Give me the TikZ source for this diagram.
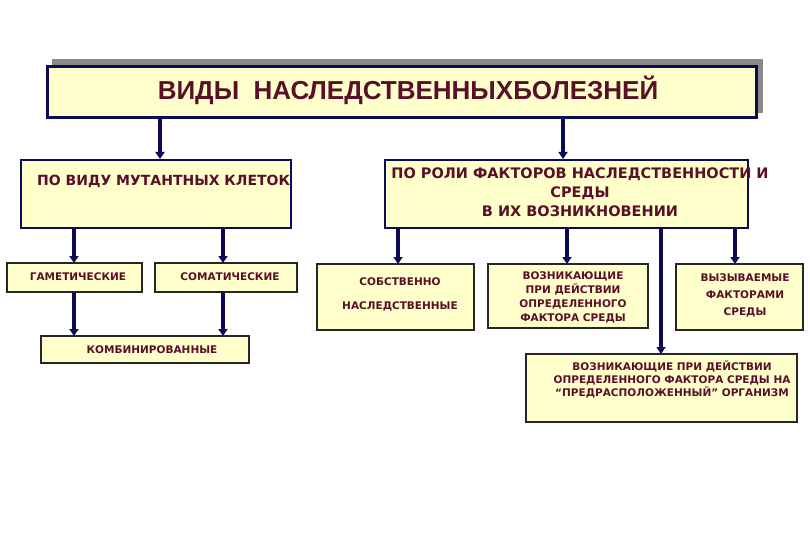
\documentclass[tikz,border=0pt]{standalone}
\usepackage{fontspec}
\setmainfont{DejaVu Sans}
\newfontfamily\titlefont{Liberation Sans}
\usetikzlibrary{arrows.meta}
\definecolor{boxfill}{HTML}{FFFFCC}
\definecolor{navy}{HTML}{0A0A55}
\definecolor{txt}{HTML}{5A0F28}
\definecolor{shadowgray}{HTML}{8A8A8A}
\tikzset{
  bigbox/.style={draw=navy, line width=2.5pt, fill=boxfill, inner sep=0pt},
  smallbox/.style={draw=black!85, line width=1.2pt, fill=boxfill, inner sep=0pt},
  conn/.style={draw=navy, line width=3.6pt, -{Triangle[width=9pt,length=7pt]}},
  lbl/.style={text=txt, font=\bfseries\fontsize{10.5}{13}\selectfont, align=center, inner sep=0pt},
  midlbl/.style={text=txt, font=\bfseries\fontsize{14}{19}\selectfont, align=center, inner sep=0pt},
}
\begin{document}
\begin{tikzpicture}[x=1pt,y=-1pt]
\useasboundingbox (0,0) rectangle (810,540);
\fill[white] (0,0) rectangle (810,540);
% title
\fill[shadowgray] (52,59) rectangle (763,113);
\node[bigbox, line width=3pt, minimum width=709pt, minimum height=51pt] (top) at (402,92) {};
\node[text=txt, font=\titlefont\bfseries\fontsize{26}{30}\selectfont, inner sep=0pt] (title) at (408,90) {ВИДЫ\ \ НАСЛЕДСТВЕННЫХБОЛЕЗНЕЙ};
% level 2
\node[bigbox, minimum width=270pt, minimum height=68pt] (b1) at (156,194) {};
\node[midlbl, anchor=west] (t1) at (37,181) {ПО ВИДУ МУТАНТНЫХ КЛЕТОК};
\node[bigbox, minimum width=363pt, minimum height=68pt] (b2) at (566.5,194) {};
\node[midlbl, font=\bfseries\fontsize{14.5}{19}\selectfont] (t2) at (580,192) {ПО РОЛИ ФАКТОРОВ НАСЛЕДСТВЕННОСТИ И\\СРЕДЫ\\В ИХ ВОЗНИКНОВЕНИИ};
\coordinate (a1s) at (160,119);
\coordinate (a1e) at (160,159);
\coordinate (a2s) at (563,119);
\coordinate (a2e) at (563,159);
\draw[conn] (a1s) -- (a1e);
\draw[conn] (a2s) -- (a2e);
% left branch
\node[smallbox, minimum width=135pt, minimum height=29pt] (gam) at (74.5,277.5) {};
\node[lbl] (tgam) at (78,277) {ГАМЕТИЧЕСКИЕ};
\node[smallbox, minimum width=142pt, minimum height=29pt] (som) at (226,277.5) {};
\node[lbl] (tsom) at (230,277) {СОМАТИЧЕСКИЕ};
\node[smallbox, minimum width=208pt, minimum height=27pt] (komb) at (145,349.5) {};
\node[lbl] (tkomb) at (152,350) {КОМБИНИРОВАННЫЕ};
\coordinate (l1s) at (74,228); \coordinate (l1e) at (74,263);
\coordinate (l2s) at (223,228); \coordinate (l2e) at (223,263);
\coordinate (l3s) at (74,292); \coordinate (l3e) at (74,336);
\coordinate (l4s) at (223,292); \coordinate (l4e) at (223,336);
\draw[conn] (l1s) -- (l1e);
\draw[conn] (l2s) -- (l2e);
\draw[conn] (l3s) -- (l3e);
\draw[conn] (l4s) -- (l4e);
% right branch
\node[smallbox, minimum width=157pt, minimum height=66pt] (sob) at (395.5,297) {};
\node[lbl, font=\bfseries\fontsize{10.5}{24}\selectfont] (tsob) at (400,294) {СОБСТВЕННО\\НАСЛЕДСТВЕННЫЕ};
\node[smallbox, minimum width=160pt, minimum height=64pt] (voz) at (568,296) {};
\node[lbl, font=\bfseries\fontsize{10.5}{14}\selectfont] (tvoz) at (573,297) {ВОЗНИКАЮЩИЕ\\ПРИ ДЕЙСТВИИ\\ОПРЕДЕЛЕННОГО\\ФАКТОРА СРЕДЫ};
\node[smallbox, minimum width=127pt, minimum height=66pt] (vyz) at (739.5,297) {};
\node[lbl, font=\bfseries\fontsize{10.5}{17}\selectfont] (tvyz) at (745,295) {ВЫЗЫВАЕМЫЕ\\ФАКТОРАМИ\\СРЕДЫ};
\node[smallbox, minimum width=271pt, minimum height=68pt] (pred) at (661.5,388) {};
\node[lbl, font=\bfseries\fontsize{10.5}{13}\selectfont] (tpred) at (672,379) {ВОЗНИКАЮЩИЕ ПРИ ДЕЙСТВИИ\\ОПРЕДЕЛЕННОГО ФАКТОРА СРЕДЫ НА\\“ПРЕДРАСПОЛОЖЕННЫЙ” ОРГАНИЗМ};
\coordinate (r1s) at (398,228); \coordinate (r1e) at (398,264);
\coordinate (r2s) at (567,228); \coordinate (r2e) at (567,264);
\coordinate (r3s) at (661,228); \coordinate (r3e) at (661,354);
\coordinate (r4s) at (735,228); \coordinate (r4e) at (735,264);
\draw[conn] (r1s) -- (r1e);
\draw[conn] (r2s) -- (r2e);
\draw[conn] (r3s) -- (r3e);
\draw[conn] (r4s) -- (r4e);
\end{tikzpicture}
\end{document}
